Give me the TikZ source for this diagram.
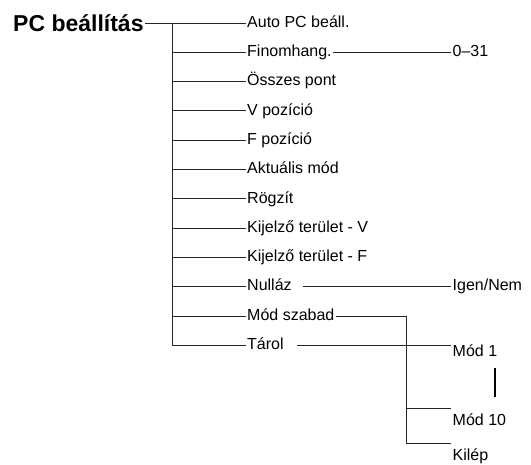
\documentclass[tikz,border=0pt]{standalone}
\usepackage{fontspec}
\setmainfont{Liberation Sans}
\usetikzlibrary{positioning}

\begin{document}
\begin{tikzpicture}[
    x=1pt, y=-1pt,
    menunode/.style={anchor=west, inner sep=1.5pt, text height=12pt, text depth=3.5pt,
                     font=\fontsize{16}{19}\selectfont},
    headnode/.style={anchor=base west, inner sep=1.5pt, font=\fontsize{23}{26}\bfseries\selectfont},
    treeline/.style={draw=black!85, line width=0.8pt},
    ]
    \useasboundingbox (0,0) rectangle (531,465);

        \node[headnode]   (pc)       at (11.5,31.7)   {PC beállítás};

    \node[menunode]   (auto)     at (245.5,23)    {Auto PC beáll.};
    \node[menunode]   (fin)      at (245.5,52.3)  {Finomhang.};
    \node[menunode]   (ossz)     at (245.5,81.6)  {Összes pont};
    \node[menunode]   (vpoz)     at (245.5,110.9) {V pozíció};
    \node[menunode]   (fpoz)     at (245.5,140.2) {F pozíció};
    \node[menunode]   (akt)      at (245.5,169.5) {Aktuális mód};
    \node[menunode]   (rogz)     at (245.5,198.8) {Rögzít};
    \node[menunode]   (kijv)     at (245.5,228.1) {Kijelző terület - V};
    \node[menunode]   (kijf)     at (245.5,257.4) {Kijelző terület - F};
    \node[menunode]   (null)     at (245.5,286.7) {Nulláz};
    \node[menunode]   (szabad)   at (245.5,316)   {Mód szabad};
    \node[menunode]   (tarol)    at (245.5,345.3) {Tárol};

    \node[menunode]   (range)    at (451,52.3)    {0–31};
    \node[menunode]   (igen)     at (451,286.7)   {Igen/Nem};
    \node[menunode]   (mod1)     at (451,352.5)   {Mód 1};
    \node[menunode]   (mod10)    at (451,421.5)   {Mód 10};
    \node[menunode]   (kilep)    at (451,456.7)   {Kilép};

    \coordinate (top)   at (172,23);
    \coordinate (fork)  at (406,316);
    \coordinate (m10in) at ([yshift=4pt]mod10.north west);
    \coordinate (klin)  at ([yshift=4pt]kilep.north west);

        \draw[treeline] (pc.east |- auto.west) -- (auto.west);
    \draw[treeline] (top) -- (top |- tarol.west);

    \draw[treeline] (top |- fin.west)    -- (fin.west);
    \draw[treeline] (top |- ossz.west)   -- (ossz.west);
    \draw[treeline] (top |- vpoz.west)   -- (vpoz.west);
    \draw[treeline] (top |- fpoz.west)   -- (fpoz.west);
    \draw[treeline] (top |- akt.west)    -- (akt.west);
    \draw[treeline] (top |- rogz.west)   -- (rogz.west);
    \draw[treeline] (top |- kijv.west)   -- (kijv.west);
    \draw[treeline] (top |- kijf.west)   -- (kijf.west);
    \draw[treeline] (top |- null.west)   -- (null.west);
    \draw[treeline] (top |- szabad.west) -- (szabad.west);
    \draw[treeline] (top |- tarol.west)  -- (tarol.west);

    \draw[treeline] (fin.east) -- (range.west);
    \draw[treeline] ([xshift=10pt]null.east) -- (igen.west);
    \draw[treeline] ([xshift=12pt]tarol.east) -- (mod1.west |- tarol.east);

    \draw[treeline] (szabad.east) -- (fork) -- (fork |- klin);
    \draw[treeline] (fork |- m10in) -- (m10in);
    \draw[treeline] (fork |- klin)  -- (klin);

    \draw[line width=2.2pt] (495,368) -- (495,397);

\end{tikzpicture}
\end{document}
